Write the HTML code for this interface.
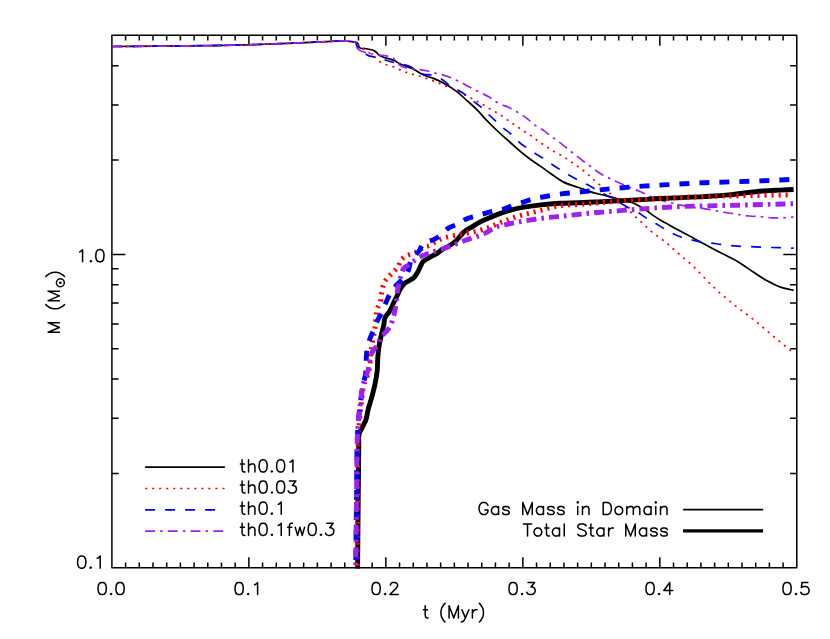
<!DOCTYPE html>
<html lang="en"><head><meta charset="utf-8"><title>Gas mass in domain and total star mass vs time</title>
<style>html,body{margin:0;padding:0;background:#fff}body{width:830px;height:639px;overflow:hidden;font-family:"Liberation Sans",sans-serif}svg{display:block}.ax{stroke:#000;stroke-width:1.5;fill:none;stroke-linejoin:round}.tk{stroke:#000;stroke-width:1.5;fill:none;stroke-linecap:butt}.g{fill:none;stroke-width:1.7;stroke-linejoin:round;stroke-linecap:butt}.s{fill:none;stroke-width:4.9;stroke-linejoin:round;stroke-linecap:butt}.t{fill:none;stroke:#000;stroke-width:1.5;stroke-linecap:round;stroke-linejoin:round}.tl text{font-family:"Liberation Sans",sans-serif;font-size:17px;fill:#000;fill-opacity:0}</style></head><body>
<svg width="830" height="639" viewBox="0 0 830 639" role="img" aria-label="Plot of M (solar masses) versus t (Myr): gas mass in domain and total star mass for runs th0.01, th0.03, th0.1, th0.1fw0.3">
<rect width="830" height="639" fill="#fff"/>
<defs><clipPath id="c"><rect x="111.2" y="34.5" width="686.3" height="533.9"/></clipPath></defs>
<rect class="ax" x="111.9" y="35.2" width="684.9" height="532.5"/>
<path class="tk" d="M125.6 567.7v-5.2M125.6 35.2v5.2M139.3 567.7v-5.2M139.3 35.2v5.2M152.99 567.7v-5.2M152.99 35.2v5.2M166.69 567.7v-5.2M166.69 35.2v5.2M180.39 567.7v-5.2M180.39 35.2v5.2M194.09 567.7v-5.2M194.09 35.2v5.2M207.79 567.7v-5.2M207.79 35.2v5.2M221.48 567.7v-5.2M221.48 35.2v5.2M235.18 567.7v-5.2M235.18 35.2v5.2M248.88 567.7v-10.5M248.88 35.2v10.5M262.58 567.7v-5.2M262.58 35.2v5.2M276.28 567.7v-5.2M276.28 35.2v5.2M289.97 567.7v-5.2M289.97 35.2v5.2M303.67 567.7v-5.2M303.67 35.2v5.2M317.37 567.7v-5.2M317.37 35.2v5.2M331.07 567.7v-5.2M331.07 35.2v5.2M344.77 567.7v-5.2M344.77 35.2v5.2M358.46 567.7v-5.2M358.46 35.2v5.2M372.16 567.7v-5.2M372.16 35.2v5.2M385.86 567.7v-10.5M385.86 35.2v10.5M399.56 567.7v-5.2M399.56 35.2v5.2M413.26 567.7v-5.2M413.26 35.2v5.2M426.95 567.7v-5.2M426.95 35.2v5.2M440.65 567.7v-5.2M440.65 35.2v5.2M454.35 567.7v-5.2M454.35 35.2v5.2M468.05 567.7v-5.2M468.05 35.2v5.2M481.75 567.7v-5.2M481.75 35.2v5.2M495.44 567.7v-5.2M495.44 35.2v5.2M509.14 567.7v-5.2M509.14 35.2v5.2M522.84 567.7v-10.5M522.84 35.2v10.5M536.54 567.7v-5.2M536.54 35.2v5.2M550.24 567.7v-5.2M550.24 35.2v5.2M563.93 567.7v-5.2M563.93 35.2v5.2M577.63 567.7v-5.2M577.63 35.2v5.2M591.33 567.7v-5.2M591.33 35.2v5.2M605.03 567.7v-5.2M605.03 35.2v5.2M618.73 567.7v-5.2M618.73 35.2v5.2M632.42 567.7v-5.2M632.42 35.2v5.2M646.12 567.7v-5.2M646.12 35.2v5.2M659.82 567.7v-10.5M659.82 35.2v10.5M673.52 567.7v-5.2M673.52 35.2v5.2M687.22 567.7v-5.2M687.22 35.2v5.2M700.91 567.7v-5.2M700.91 35.2v5.2M714.61 567.7v-5.2M714.61 35.2v5.2M728.31 567.7v-5.2M728.31 35.2v5.2M742.01 567.7v-5.2M742.01 35.2v5.2M755.71 567.7v-5.2M755.71 35.2v5.2M769.4 567.7v-5.2M769.4 35.2v5.2M783.1 567.7v-5.2M783.1 35.2v5.2M111.9 473.39h6.7M796.8 473.39h-6.7M111.9 418.22h6.7M796.8 418.22h-6.7M111.9 379.07h6.7M796.8 379.07h-6.7M111.9 348.71h6.7M796.8 348.71h-6.7M111.9 323.91h6.7M796.8 323.91h-6.7M111.9 302.93h6.7M796.8 302.93h-6.7M111.9 284.76h6.7M796.8 284.76h-6.7M111.9 268.74h6.7M796.8 268.74h-6.7M111.9 254.4h13.5M796.8 254.4h-13.5M111.9 160.09h6.7M796.8 160.09h-6.7M111.9 104.92h6.7M796.8 104.92h-6.7M111.9 65.77h6.7M796.8 65.77h-6.7"/>
<g clip-path="url(#c)">
<path class="g" stroke="#000" stroke-width="1.55" d="M111.9 46.5C134.6,46.3,157.3,46.18,180,45.9C201.67,45.64,223.34,45.53,245,44.9C256.87,44.56,268.73,44.06,280.6,43.6C291.83,43.16,303.07,42.71,314.3,42.2C319.93,41.94,325.57,41.66,331.2,41.4C334.13,41.26,337.06,41.05,340,41C341.57,40.98,343.14,40.94,344.7,41C346.47,41.06,348.24,41.23,350,41.4C351.44,41.54,352.89,41.6,354.3,41.9C355.18,42.08,356.2,42.11,356.9,42.6C357.49,43.02,357.96,43.74,358.3,44.4C358.69,45.15,358.53,46.22,359,46.9C359.36,47.42,359.95,47.89,360.5,48.2C361.62,48.82,363.17,48.35,364.5,48.5C366.41,48.72,368.33,49.03,370.2,49.5C371.69,49.88,373.3,50.12,374.6,50.9C375.4,51.38,376.14,52.03,376.8,52.7C377.31,53.22,377.68,53.9,378.2,54.4C379.19,55.34,380.55,55.91,381.8,56.5C383.2,57.17,384.71,57.64,386.2,58.1C387.61,58.53,389.08,58.77,390.5,59.2C391.95,59.64,393.43,60.06,394.8,60.7C396.35,61.42,397.68,62.61,399.2,63.4C400.59,64.12,402.05,64.7,403.5,65.3C406.16,66.41,408.97,67.14,411.6,68.3C415.6,70.07,419.12,72.9,423.1,74.7C426.83,76.39,430.92,77.3,434.7,78.9C439.33,80.86,443.91,83.09,448.2,85.7C451.52,87.72,454.74,89.99,457.8,92.4C461.21,95.08,464.27,98.19,467.5,101.1C470.71,103.99,474.04,106.76,477.1,109.8C480.47,113.16,483.4,116.96,486.7,120.4C489.85,123.68,493.1,126.87,496.4,130C499.54,132.97,502.78,135.82,506,138.7C509.22,141.58,512.44,144.46,515.7,147.3C518.87,150.06,522,152.89,525.3,155.49C528.41,157.94,531.64,160.25,534.9,162.5C536.58,163.66,538.31,164.75,540,165.91C543.94,168.61,547.67,171.6,551.6,174.31C555.38,176.91,559.05,179.78,563.1,181.87C567.95,184.37,573.42,185.65,578.6,187.5C583.72,189.33,588.78,191.39,594,192.9C598.44,194.18,603.02,194.95,607.5,196.1C610.71,196.92,613.89,197.88,617.1,198.7C620.29,199.51,623.55,200.08,626.7,201C629.98,201.96,633.32,202.95,636.4,204.4C639.78,205.99,642.86,208.27,646,210.33C649.3,212.49,652.39,214.97,655.7,217.1C658.83,219.11,662.08,220.93,665.3,222.8C668.48,224.65,671.67,226.49,674.9,228.27C678.86,230.45,682.91,232.47,686.9,234.6C692.56,237.62,698.15,240.77,703.8,243.8C709.41,246.81,715.06,249.75,720.7,252.7C726.33,255.65,732.14,258.28,737.6,261.5C743.43,264.94,748.8,269.13,754.5,272.8C758.99,275.69,763.4,278.76,768.1,281.3C771.93,283.36,775.82,285.43,779.9,286.9C783.99,288.37,788.32,289.23,792.6,290.1C792.93,290.17,793.27,290.23,793.6,290.3"/>
<path class="g" stroke="#ff0000" stroke-dasharray="2.1 4.93" d="M111.9 46.5C134.6,46.3,157.3,46.18,180,45.9C201.67,45.64,223.34,45.53,245,44.9C256.87,44.56,268.73,44.06,280.6,43.6C291.83,43.16,303.07,42.71,314.3,42.2C319.93,41.94,325.57,41.66,331.2,41.4C334.13,41.26,337.06,41.05,340,41C341.57,40.98,343.14,40.94,344.7,41C346.47,41.06,348.26,41.1,350,41.4C350.64,41.51,351.27,41.66,351.9,41.8C352.94,42.02,354.06,42.07,355,42.5C356,42.95,356.81,43.82,357.7,44.5C359.17,45.63,360.53,46.89,362,48C363.87,49.42,365.82,50.74,367.8,52C369.5,53.09,371.42,53.88,373,55.1C374.83,56.51,376.1,58.63,377.9,60.1C379.53,61.43,381.31,62.69,383.2,63.6C385.29,64.61,387.68,64.96,389.9,65.7C392.11,66.43,394.36,67.09,396.5,68C398.55,68.87,400.44,70.14,402.5,71C404.51,71.84,406.62,72.43,408.7,73.1C413.16,74.54,417.75,75.55,422.2,77C424.45,77.73,426.68,78.51,428.9,79.3C431.18,80.11,433.46,80.9,435.7,81.8C437.96,82.7,440.16,83.74,442.4,84.7C444.66,85.67,446.94,86.62,449.2,87.6C451.1,88.42,453.02,89.23,454.9,90.1C457.19,91.15,459.44,92.29,461.7,93.4C463.64,94.36,465.57,95.33,467.5,96.3C469.74,97.43,472,98.51,474.2,99.7C476.16,100.76,478.07,101.9,480,103C481.93,104.1,483.88,105.18,485.8,106.3C487.92,107.54,489.98,108.86,492.1,110.1C494.15,111.3,496.28,112.35,498.3,113.6C500.28,114.82,502.19,116.17,504.1,117.5C506.06,118.87,507.94,120.33,509.9,121.7C511.81,123.03,513.76,124.3,515.7,125.6C517.6,126.87,519.5,128.13,521.4,129.4C523.34,130.7,525.26,132.01,527.2,133.3C529.13,134.58,531.11,135.77,533,137.1C534.98,138.5,536.83,140.09,538.8,141.5C540.99,143.07,543.25,144.53,545.5,146C547.52,147.32,549.54,148.65,551.6,149.9C553.48,151.04,555.39,152.12,557.3,153.2C559.09,154.22,560.94,155.13,562.7,156.2C564.69,157.41,566.57,158.8,568.5,160.1C570.43,161.4,572.39,162.66,574.3,164C576.06,165.23,577.76,166.54,579.5,167.8C581.43,169.2,583.46,170.48,585.3,172C587.13,173.52,588.74,175.29,590.5,176.9C592.28,178.53,594.07,180.13,595.9,181.7C597.8,183.33,599.77,184.9,601.7,186.5C603.63,188.1,605.57,189.7,607.5,191.3C609.43,192.9,611.46,194.4,613.3,196.1C614.98,197.65,616.41,199.47,618.1,201C619.75,202.49,621.61,203.75,623.3,205.2C625.16,206.8,626.92,208.52,628.7,210.2C630.52,211.92,632.28,213.69,634.1,215.4C635.82,217.02,637.57,218.59,639.3,220.2C641.04,221.82,642.77,223.46,644.5,225.1C646.17,226.69,647.77,228.38,649.5,229.9C651.17,231.37,652.94,232.73,654.7,234.1C656.41,235.43,658.15,236.73,659.9,238C661.68,239.29,663.58,240.43,665.3,241.8C667.12,243.25,668.78,244.92,670.5,246.5C672.48,248.32,674.37,250.24,676.4,252C678.15,253.52,680,254.93,681.8,256.4C683.67,257.93,685.57,259.42,687.4,261C689.13,262.49,690.83,264.03,692.5,265.6C694.23,267.23,695.93,268.91,697.6,270.6C699.26,272.28,700.88,273.98,702.5,275.7C704.08,277.38,705.59,279.14,707.2,280.8C708.86,282.51,710.59,284.14,712.3,285.8C713.96,287.41,715.59,289.05,717.3,290.6C719.09,292.22,720.96,293.74,722.8,295.3C724.63,296.84,726.47,298.37,728.3,299.9C730.1,301.4,731.88,302.93,733.7,304.4C735.55,305.89,737.41,307.37,739.3,308.8C741.14,310.2,743.05,311.51,744.9,312.9C746.72,314.27,748.5,315.71,750.3,317.1C752.16,318.54,754.08,319.91,755.9,321.4C757.64,322.82,759.29,324.35,761,325.8C762.79,327.32,764.62,328.77,766.4,330.3C768.23,331.87,769.96,333.55,771.8,335.1C773.63,336.65,775.56,338.07,777.4,339.6C779.29,341.17,781.1,342.83,783,344.4C784.65,345.76,786.35,347.04,788,348.4C789.55,349.68,791.04,351.04,792.6,352.3C792.93,352.57,793.27,352.83,793.6,353.1"/>
<path class="g" stroke="#0000ff" stroke-dasharray="10 10" d="M111.9 46.5C134.6,46.3,157.3,46.18,180,45.9C201.67,45.64,223.34,45.53,245,44.9C256.87,44.56,268.73,44.06,280.6,43.6C291.83,43.16,303.07,42.71,314.3,42.2C319.93,41.94,325.57,41.66,331.2,41.4C334.13,41.26,337.06,41.05,340,41C341.57,40.98,343.14,40.94,344.7,41C346.47,41.06,348.24,41.24,350,41.4C351.33,41.52,352.74,41.38,354,41.8C354.41,41.94,354.86,42.07,355.2,42.3C356,42.84,356.19,44.08,356.6,45C357.22,46.38,357.24,48.2,358.1,49.3C359.31,50.85,362.2,50.76,363.9,52C364.95,52.77,365.74,53.96,366.8,54.7C369.1,56.31,372.25,56.48,375,57.3C378.51,58.35,382.07,59.24,385.6,60.2C388.67,61.04,391.71,61.94,394.8,62.7C396.53,63.12,398.26,63.54,400,63.9C401.63,64.24,403.29,64.39,404.9,64.8C406.63,65.24,408.35,65.81,410,66.5C411.73,67.23,413.36,68.19,415,69.1C417.73,70.61,420.11,72.99,423,74C425.79,74.98,429.09,74.45,432,75.2C435.25,76.03,438.51,77.31,441.4,79C444.16,80.61,446.33,83.21,449,85C451.84,86.9,455.07,88.22,458,90C461.25,91.97,464.47,94.01,467.5,96.3C469.74,98,471.8,99.94,474,101.7C476.62,103.79,479.48,105.6,482,107.8C484.71,110.17,487,113.01,489.6,115.5C491.82,117.62,494.13,119.64,496.4,121.7C498.93,124,501.38,126.4,504,128.6C506.58,130.77,509.48,132.56,512,134.8C514.67,137.18,516.79,140.17,519.5,142.5C521.84,144.51,524.46,146.22,527,148C529.95,150.07,532.94,152.1,536,154C538.59,155.61,541.34,156.96,543.9,158.6C546.86,160.49,549.59,162.73,552.5,164.7C555.03,166.42,557.6,168.08,560.2,169.7C563.07,171.49,565.98,173.2,568.9,174.9C571.78,176.57,574.66,178.24,577.6,179.8C580.76,181.48,584.04,182.93,587.2,184.6C590.13,186.14,593,187.8,595.9,189.4C598.8,191,601.67,192.66,604.6,194.2C607.14,195.54,609.78,196.72,612.3,198.1C615.58,199.9,618.67,202.01,621.9,203.9C624.45,205.39,626.99,206.92,629.6,208.3C632.45,209.8,635.52,210.89,638.3,212.5C641.35,214.26,644.02,216.64,647,218.53C649.83,220.33,652.82,221.87,655.7,223.59C658.28,225.13,660.81,226.76,663.4,228.27C666.23,229.92,669.06,231.6,672,233.05C674.55,234.31,677.14,235.5,679.8,236.5C682.92,237.68,686.17,238.57,689.4,239.4C692.27,240.14,695.18,240.77,698.1,241.3C699.99,241.64,701.9,241.94,703.8,242.2C706.46,242.57,709.14,242.76,711.8,243.1C714.77,243.48,717.73,244.01,720.7,244.4C726.31,245.13,731.95,245.7,737.6,246.1C743.22,246.5,748.87,246.57,754.5,246.8C760.17,247.03,765.83,247.3,771.5,247.5C778.23,247.74,784.97,247.76,791.7,248.1C792.33,248.13,792.97,248.17,793.6,248.2"/>
<path class="g" stroke="#a020f0" stroke-dasharray="10 5 2.6 5.1" d="M111.9 46.5C134.6,46.3,157.3,46.18,180,45.9C201.67,45.64,223.34,45.53,245,44.9C256.87,44.56,268.73,44.06,280.6,43.6C291.83,43.16,303.07,42.71,314.3,42.2C319.93,41.94,325.57,41.66,331.2,41.4C334.13,41.26,337.06,41.05,340,41C341.57,40.98,343.14,40.94,344.7,41C346.47,41.06,348.24,41.24,350,41.4C351.33,41.52,352.74,41.38,354,41.8C354.41,41.94,354.86,42.07,355.2,42.3C356,42.84,356.19,44.08,356.6,45C357.22,46.38,357.24,48.2,358.1,49.3C359.31,50.85,361.9,51.28,363.9,52C366.09,52.79,368.42,53.21,370.7,53.7C372.92,54.17,375.16,54.57,377.4,54.9C380.45,55.35,383.61,55.2,386.6,55.9C388.6,56.37,390.73,56.82,392.5,57.8C394.48,58.9,396.18,60.67,397.7,62.4C398.53,63.34,399.08,64.61,400,65.4C401.52,66.71,403.81,67.1,405.8,67.65C408.28,68.34,410.93,68.41,413.5,68.79C418.34,69.51,423.27,69.8,428,71C430.12,71.54,432.18,72.34,434.3,72.9C436.35,73.44,438.45,73.78,440.5,74.31C443.44,75.08,446.36,75.93,449.2,77C451.47,77.86,453.7,78.87,455.9,79.9C457.86,80.82,459.78,81.8,461.7,82.8C464.29,84.15,466.82,85.62,469.4,87C471.62,88.19,473.86,89.35,476.1,90.5C478.03,91.48,479.96,92.44,481.9,93.4C484.46,94.67,487.19,95.68,489.6,97.2C491.42,98.35,492.98,99.95,494.8,101.1C496.82,102.38,499.02,103.41,501.2,104.4C503.7,105.54,506.41,106.24,508.9,107.4C511.02,108.39,513.07,109.54,515.1,110.7C516.93,111.75,518.73,112.86,520.5,114C523.13,115.7,525.76,117.44,528.2,119.4C530.07,120.91,531.67,122.77,533.6,124.2C535.24,125.42,537.06,126.42,538.8,127.5C540.49,128.55,542.26,129.48,543.9,130.6C545.88,131.95,547.69,133.55,549.6,135C551.52,136.45,553.47,137.86,555.4,139.3C557.98,141.22,560.58,143.1,563.1,145.1C565.06,146.66,566.93,148.34,568.9,149.9C570.8,151.41,572.78,152.81,574.7,154.3C577.3,156.32,579.77,158.51,582.4,160.5C584.3,161.94,586.29,163.27,588.2,164.7C590.16,166.17,592.02,167.77,594,169.2C596.81,171.23,599.68,173.2,602.7,174.9C604.56,175.94,606.5,176.84,608.4,177.8C610.33,178.77,612.24,179.78,614.2,180.7C617.05,182.04,620.01,183.17,622.9,184.43C624.84,185.28,626.74,186.21,628.7,186.99C630.61,187.75,632.59,188.32,634.5,189.08C637.11,190.12,639.65,191.35,642.2,192.53C644.14,193.43,646.06,194.39,648,195.29C649.89,196.16,651.76,197.08,653.7,197.84C655.92,198.71,658.21,199.4,660.5,200.07C663.04,200.81,665.63,201.37,668.2,202.02C671.47,202.85,674.71,203.76,678,204.5C681.97,205.39,685.98,206.15,690,206.8C694.58,207.55,699.21,207.91,703.8,208.6C709.46,209.46,715.06,210.63,720.7,211.6C726.33,212.57,731.95,213.56,737.6,214.4C741.53,214.98,745.45,215.6,749.4,216C753.45,216.41,757.54,216.46,761.6,216.8C765.04,217.08,768.46,217.63,771.9,217.8C775.66,217.99,779.44,217.98,783.2,217.8C785.07,217.71,786.93,217.55,788.8,217.4C790.4,217.28,792,217.13,793.6,217"/>
<path class="s" stroke="#000" d="M357.5 580C357.73,553.33,357.93,526.67,358.2,500C358.38,481.67,358.6,463.33,358.8,445C358.83,442,358.47,438.96,358.9,436C359.07,434.83,359.2,433.61,359.6,432.5C359.98,431.45,360.68,430.51,361.2,429.5C361.89,428.18,362.54,426.84,363.2,425.5C364.08,423.71,365.09,421.95,365.8,420.1C367.13,416.65,367.27,412.8,368.2,409.2C369.24,405.16,370.7,401.23,371.8,397.2C372.9,393.19,373.95,389.16,374.8,385.1C375.8,380.34,376.7,375.53,377.2,370.7C377.65,366.33,377.45,361.89,377.8,357.5C378.09,353.86,378.45,350.21,379,346.6C379.61,342.57,380.5,338.58,381.4,334.6C382.13,331.35,383.15,328.16,383.8,324.9C384.28,322.52,384.11,319.9,385,317.7C385.99,315.24,388.41,313.42,389.8,311.1C391.51,308.25,392.56,305.01,394,302C395.24,299.42,396.53,296.86,397.8,294.3C398.76,292.36,399.54,290.3,400.7,288.5C402.06,286.39,403.66,284.27,405.6,282.7C407.03,281.54,408.76,280.7,410.4,279.8C411.35,279.28,412.44,278.92,413.3,278.3C415.03,277.04,416.06,274.86,417.2,273C418.32,271.16,419.12,269.13,420.1,267.2C421.05,265.33,421.61,263.08,423,261.6C424.28,260.24,426.25,259.5,427.9,258.5C429.8,257.35,431.75,256.28,433.7,255.2C434.86,254.56,436.08,254,437.2,253.3C438.91,252.23,440.32,250.71,442,249.6C444.13,248.2,446.62,247.33,448.8,246C451.16,244.56,453.55,243.05,455.6,241.2C457.36,239.61,458.79,237.66,460.4,235.9C461.69,234.49,462.88,232.95,464.3,231.7C466.59,229.69,469.48,228.4,472.1,226.8C474.65,225.24,477.16,223.6,479.8,222.2C483.09,220.46,486.58,219.08,490,217.6C492.12,216.68,494.25,215.75,496.4,214.9C500.82,213.16,505.33,211.59,509.9,210.3C514.95,208.87,520.13,207.8,525.3,206.9C530.39,206.01,535.56,205.48,540.7,204.91C546.88,204.23,553.09,203.65,559.3,203.29C565.72,202.92,572.17,203,578.6,202.77C585,202.54,591.4,202.21,597.8,201.9C604.23,201.59,610.67,201.23,617.1,200.9C623.53,200.57,629.97,200.25,636.4,199.9C642.83,199.55,649.27,199.16,655.7,198.82C662.1,198.49,668.5,198.19,674.9,197.89C684.53,197.44,694.17,197.14,703.8,196.6C712.27,196.12,720.76,195.78,729.2,194.9C734.85,194.31,740.46,193.35,746.1,192.7C751.72,192.05,757.36,191.43,763,191C768.62,190.57,774.27,190.37,779.9,190.1C784.47,189.88,789.03,189.7,793.6,189.5"/>
<path class="s" stroke="#ff0000" stroke-dasharray="2.1 4.93" d="M357 580C357.2,553.33,357.36,526.67,357.6,500C357.78,480,357.3,459.98,358.2,440C358.32,437.33,358.43,434.66,358.6,432C358.85,428.03,359.27,424.07,359.6,420.1C359.8,417.67,359.96,415.23,360.2,412.8C360.52,409.59,361,406.4,361.4,403.2C361.8,400,362.17,396.8,362.6,393.6C362.98,390.76,363.12,387.86,363.8,385.1C364.61,381.8,366.35,378.75,367.4,375.5C368.31,372.7,369.28,369.88,369.8,367C370.36,363.89,370.25,360.67,370.5,357.5C370.69,355.07,370.8,352.62,371.1,350.2C371.4,347.79,371.86,345.39,372.3,343C372.7,340.79,373.2,338.61,373.6,336.4C374.04,334.01,374.5,331.61,374.8,329.2C375.08,326.98,375.2,324.73,375.4,322.5C375.6,320.3,375.72,318.09,376,315.9C376.31,313.49,376.44,310.98,377.2,308.7C377.9,306.6,379.52,304.8,380.2,302.7C381,300.24,380.85,297.49,381.3,294.9C381.65,292.89,382.04,290.89,382.5,288.9C383.02,286.65,383.28,284.22,384.3,282.2C385.32,280.19,387.07,278.51,388.6,276.8C390.11,275.12,391.85,273.64,393.4,272C395.05,270.25,396.97,268.63,398.2,266.6C399.23,264.9,399.41,262.65,400.5,261C401.72,259.15,403.53,257.49,405.4,256.3C407.18,255.16,409.4,254.69,411.4,253.9C413.43,253.09,415.58,252.51,417.5,251.5C419.64,250.37,421.32,248.32,423.5,247.3C425.37,246.42,427.6,246.32,429.5,245.5C431.62,244.58,433.45,243.01,435.5,241.9C437.49,240.82,439.5,239.73,441.6,238.9C443.73,238.06,445.98,237.48,448.2,236.9C451.36,236.07,454.6,235.55,457.8,234.9C461.03,234.25,464.27,233.64,467.5,233C470.7,232.37,473.94,231.89,477.1,231.1C480.34,230.29,483.55,229.3,486.7,228.2C489.99,227.05,493.16,225.59,496.4,224.3C499.6,223.02,502.78,221.72,506,220.5C509.21,219.28,512.43,218.05,515.7,217C518.86,215.99,522.09,215.17,525.3,214.3C528.49,213.44,531.7,212.63,534.9,211.8C538.13,210.96,541.36,210.11,544.6,209.3C549.49,208.08,554.35,206.62,559.3,205.8C565.64,204.75,572.17,204.84,578.6,204.37C585,203.9,591.41,203.54,597.8,203C604.24,202.45,610.66,201.6,617.1,201.1C623.52,200.6,629.97,200.36,636.4,200C642.83,199.65,649.27,199.34,655.7,198.97C662.1,198.61,668.5,198.15,674.9,197.81C684.53,197.3,694.16,196.91,703.8,196.6C712.26,196.33,720.73,196.18,729.2,196C737.63,195.82,746.07,195.66,754.5,195.5C760.17,195.4,765.83,195.28,771.5,195.2C777.47,195.11,783.43,195.07,789.4,195"/>
<path class="s" stroke="#0000ff" stroke-dasharray="10 10" d="M355.6 580C355.9,553.33,356.17,526.67,356.5,500C356.75,480,356.61,459.99,357.3,440C357.39,437.33,357.45,434.66,357.6,432C357.82,428.03,358.27,424.07,358.6,420.1C358.8,417.67,358.96,415.23,359.2,412.8C359.52,409.59,360,406.4,360.4,403.2C360.8,400,361.17,396.8,361.6,393.6C361.98,390.76,362.24,387.9,362.8,385.1C363.45,381.86,364.83,378.75,365.4,375.5C365.89,372.71,366.05,369.84,366.2,367C366.36,364.01,366.14,360.99,366.3,358C366.5,354.19,366.68,350.31,367.5,346.6C368.09,343.96,368.99,341.36,369.9,338.8C371.13,335.33,372.76,332,374.2,328.6C375.4,325.77,376.52,322.9,377.8,320.1C379.29,316.85,381.11,313.75,382.6,310.5C383.88,307.7,384.94,304.81,386.2,302C387.56,298.97,388.78,295.82,390.5,293C392.19,290.23,394.29,287.67,396.4,285.2C399.15,281.98,403.12,279.72,405.4,276.2C406.6,274.34,407.53,272.25,408.4,270.2C409.99,266.47,409.61,261.76,411.9,258.5C412.84,257.16,414.13,256,415.3,254.8C416.4,253.67,417.67,252.68,418.7,251.5C420.75,249.13,421.14,245.14,423.6,243.4C424.95,242.44,426.78,242.02,428.4,241.4C430.01,240.78,431.73,240.39,433.3,239.7C436.05,238.49,438.59,236.7,441,234.9C443.81,232.81,445.86,229.63,448.8,227.8C451.43,226.17,454.7,225.6,457.5,224.2C460.55,222.67,463.19,220.27,466.3,218.9C469.36,217.55,472.77,216.96,476,216C478.93,215.13,481.86,214.23,484.8,213.4C488.02,212.49,491.24,211.56,494.5,210.8C497.68,210.06,500.98,209.81,504.1,208.9C507.39,207.94,510.45,206.22,513.7,205.1C516.89,204,520.19,203.23,523.4,202.2C526.62,201.17,529.74,199.77,533,198.9C536.18,198.05,539.46,197.6,542.7,197C548.22,195.98,553.75,194.98,559.3,194.2C565.7,193.3,572.17,192.82,578.6,192.13C585,191.45,591.4,190.75,597.8,190.1C604.23,189.44,610.66,188.78,617.1,188.2C623.53,187.62,629.96,187.08,636.4,186.6C642.83,186.12,649.26,185.68,655.7,185.3C662.1,184.92,668.5,184.64,674.9,184.3C684.53,183.79,694.16,183.12,703.8,182.7C715.06,182.21,726.33,182.05,737.6,181.67C748.9,181.29,760.2,180.91,771.5,180.4C778.87,180.07,786.23,179.67,793.6,179.3"/>
<path class="s" stroke="#a020f0" stroke-dasharray="10 5 2.6 5.1" d="M355.6 580C355.9,553.33,356.17,526.67,356.5,500C356.75,480,356.61,459.99,357.3,440C357.39,437.33,357.45,434.66,357.6,432C357.82,428.03,358.27,424.07,358.6,420.1C358.8,417.67,358.96,415.23,359.2,412.8C359.52,409.59,360,406.4,360.4,403.2C360.8,400,361.17,396.8,361.6,393.6C361.98,390.76,362.12,387.86,362.8,385.1C363.61,381.8,365.35,378.75,366.4,375.5C367.31,372.7,368.13,369.86,368.8,367C369.53,363.87,369.61,360.58,370.5,357.5C371.16,355.22,371.84,352.85,373,350.8C374.11,348.84,376,347.32,377.2,345.4C378.71,342.99,379.22,339.95,380.8,337.6C382.13,335.62,384.02,334.02,385.6,332.2C387.01,330.58,388.68,329.1,389.8,327.3C391.34,324.81,391.92,321.74,392.8,318.9C393.47,316.72,394.11,314.52,394.6,312.3C395.12,309.93,395.44,307.51,395.8,305.1C396.26,302.08,396.66,299.04,397,296C397.22,294,397.27,291.98,397.6,290C398,287.57,398.84,285.21,399.4,282.8C400.05,280.01,400.28,277.1,401.2,274.4C401.97,272.13,402.61,269.48,404.2,267.8C405.44,266.49,407.46,265.89,409,264.8C410.53,263.72,411.89,262.4,413.4,261.3C416.15,259.29,419.06,257.42,422.1,255.9C425.34,254.28,428.86,253.2,432.3,252C435.99,250.71,439.79,249.74,443.5,248.5C446.89,247.36,450.25,246.15,453.6,244.9C457.19,243.56,460.7,242.01,464.3,240.7C467.84,239.41,471.46,238.39,475,237.1C478.6,235.79,482.29,234.62,485.7,232.9C487.72,231.88,489.59,230.56,491.6,229.5C493.79,228.35,495.98,227.12,498.3,226.3C500.64,225.48,503.16,225.14,505.6,224.6C508.29,224,510.99,223.44,513.7,222.9C517.55,222.14,521.43,221.46,525.3,220.8C527.73,220.38,530.16,219.98,532.6,219.6C538.18,218.74,543.78,217.99,549.4,217.4C552.69,217.05,556,216.82,559.3,216.5C565.74,215.87,572.16,215.02,578.6,214.35C585,213.68,591.4,213.04,597.8,212.47C604.23,211.9,610.67,211.43,617.1,210.91C623.53,210.39,629.97,209.85,636.4,209.35C642.83,208.85,649.26,208.33,655.7,207.9C662.1,207.48,668.5,207.1,674.9,206.8C684.53,206.35,694.17,206.17,703.8,205.92C715.07,205.62,726.33,205.46,737.6,205.19C748.9,204.92,760.2,204.63,771.5,204.3C778.87,204.08,786.23,203.83,793.6,203.6"/>
</g>
<path class="t" d="M106.07 590.61 L106.33 587.57 L105.74 584.74 L104.54 583 L102.79 582.42 L101.53 582.42 L99.78 583 L98.58 584.74 L98.25 586.41 L97.99 589.45 L98.58 592.28 L99.78 594.02 L101.53 594.6 L102.79 594.6 L104.54 594.02 L105.74 592.28ZM111.17 593.51 L110.5 594.02 L111.03 594.53 L111.7 594.02ZM123.95 590.61 L124.21 587.57 L123.62 584.74 L122.42 583 L120.67 582.42 L119.41 582.42 L117.66 583 L116.46 584.74 L116.13 586.41 L115.87 589.45 L116.46 592.28 L117.66 594.02 L119.41 594.6 L120.67 594.6 L122.42 594.02 L123.62 592.28ZM243.05 590.61 L243.31 587.57 L242.72 584.74 L241.52 583 L239.77 582.42 L238.51 582.42 L236.76 583 L235.56 584.74 L235.23 586.41 L234.97 589.45 L235.56 592.28 L236.76 594.02 L238.51 594.6 L239.77 594.6 L241.52 594.02 L242.72 592.28ZM248.15 593.51 L247.48 594.02 L248.01 594.53 L248.68 594.02ZM257.62 594.6 L257.62 582.49 L255.79 584.2 L254.64 584.74M380.03 590.61 L380.29 587.57 L379.7 584.74 L378.5 583 L376.75 582.42 L375.49 582.42 L373.74 583 L372.54 584.74 L372.21 586.41 L371.95 589.45 L372.54 592.28 L373.74 594.02 L375.49 594.6 L376.75 594.6 L378.5 594.02 L379.7 592.28ZM385.13 593.51 L384.46 594.02 L384.99 594.53 L385.66 594.02ZM398.17 594.6 L389.87 594.56 L395.83 588.76 L397.58 585.94 L397.58 584.74 L396.98 583.58 L395.23 582.42 L392.81 582.42 L391.62 583 L391.02 583.58 L390.42 584.74 L390.42 585.32M517.01 590.61 L517.27 587.57 L516.68 584.74 L515.48 583 L513.73 582.42 L512.47 582.42 L510.72 583 L509.52 584.74 L509.19 586.41 L508.93 589.45 L509.52 592.28 L510.72 594.02 L512.47 594.6 L513.73 594.6 L515.48 594.02 L516.68 592.28ZM522.11 593.51 L521.44 594.02 L521.97 594.53 L522.64 594.02ZM526.81 592.28 L527.37 593.4 L528.07 594.06 L529.75 594.6 L531.61 594.6 L533.36 594.02 L534.56 592.86 L535.15 591.16 L535.15 589.92 L534.56 588.22 L532.81 587.06 L531.02 587.02 L534.52 582.46 L528 582.42M653.99 590.61 L654.25 587.57 L653.66 584.74 L652.46 583 L650.71 582.42 L649.45 582.42 L647.7 583 L646.5 584.74 L646.17 586.41 L645.91 589.45 L646.5 592.28 L647.7 594.02 L649.45 594.6 L650.71 594.6 L652.46 594.02 L653.66 592.28ZM659.09 593.51 L658.42 594.02 L658.95 594.53 L659.62 594.02ZM669.75 582.49 L663.83 590.47 L669.75 590.54M669.75 582.49 L669.75 582.42M669.75 582.49 L669.75 590.54M669.75 590.54 L669.75 594.6M669.75 590.54 L672.73 590.54M790.97 590.61 L791.23 587.57 L790.64 584.74 L789.44 583 L787.69 582.42 L786.43 582.42 L784.68 583 L783.48 584.74 L783.15 586.41 L782.89 589.45 L783.48 592.28 L784.68 594.02 L786.43 594.6 L787.69 594.6 L789.44 594.02 L790.64 592.28ZM796.07 593.51 L795.4 594.02 L795.93 594.53 L796.6 594.02ZM800.77 592.28 L801.96 594.02 L803.71 594.6 L805.57 594.6 L807.25 594.06 L808.52 592.86 L809.11 591.16 L809.11 589.92 L808.52 588.22 L807.32 587.06 L805.57 586.48 L803.71 586.48 L802.03 587.02 L801.36 587.57 L802 582.42 L807.92 582.42M82.59 261.8 L82.59 249.69 L80.77 251.4 L79.61 251.94M91.01 260.71 L90.34 261.22 L90.86 261.73 L91.53 261.22ZM103.79 257.81 L104.05 254.77 L103.45 251.94 L102.26 250.2 L100.51 249.62 L99.24 249.62 L97.49 250.2 L96.3 251.94 L95.97 253.61 L95.71 256.65 L96.3 259.48 L97.49 261.22 L99.24 261.8 L100.51 261.8 L102.26 261.22 L103.45 259.48ZM85.64 564.21 L85.9 561.17 L85.3 558.34 L84.11 556.6 L82.36 556.02 L81.09 556.02 L79.34 556.6 L78.15 558.34 L77.81 560.01 L77.55 563.05 L78.15 565.88 L79.34 567.62 L81.09 568.2 L82.36 568.2 L84.11 567.62 L85.3 565.88ZM90.74 567.11 L90.07 567.62 L90.59 568.13 L91.26 567.62ZM100.2 568.2 L100.2 556.09 L98.37 557.8 L97.22 558.34M423.45 609.78 L425.2 609.78M427.53 609.78 L425.2 609.78M425.2 605.72 L425.2 609.78M425.2 609.78 L425.2 615.62 L425.74 617.25 L426.95 617.9 L428.11 617.9M445 603.4 L443.8 604.6 L442.71 606.23 L441.51 608.62 L440.93 611.45 L440.93 613.91 L441.51 616.78 L443.8 620.76 L445 621.96M449.08 605.83 L449.08 605.72M449.08 605.83 L449.08 617.9M449.08 605.83 L453.74 617.86M458.4 605.72 L458.4 605.83M453.74 617.86 L453.74 617.9M453.74 617.86 L458.4 605.83M458.4 605.83 L458.4 617.9M461.9 609.78 L465.39 617.86M468.89 609.78 L465.39 617.86M465.39 617.86 L464.26 620.18 L463.03 621.42 L461.93 621.96 L461.31 621.96M472.38 613.12 L472.38 609.78M472.38 613.12 L472.38 617.9M472.38 613.12 L472.96 611.52 L474.13 610.36 L475.29 609.78 L477.04 609.78M479.37 603.4 L480.57 604.6 L481.67 606.23 L482.87 608.62 L483.45 611.45 L483.45 613.91 L482.87 616.78 L480.57 620.76 L479.37 621.96M240.35 463.88 L242.1 463.88M244.44 463.88 L242.1 463.88M242.1 459.82 L242.1 463.88M242.1 463.88 L242.1 469.72 L242.65 471.35 L243.85 472 L245.02 472M248.53 466.16 L248.53 459.82M248.53 466.16 L248.53 472M248.53 466.16 L250.28 464.46 L251.45 463.88 L253.23 463.88 L254.33 464.42 L254.95 466.16 L254.95 472M266.96 468.01 L267.21 464.97 L266.63 462.14 L265.46 460.4 L263.75 459.82 L262.51 459.82 L260.79 460.4 L259.62 462.14 L259.29 463.81 L259.04 466.85 L259.62 469.68 L260.79 471.42 L262.51 472 L263.75 472 L265.46 471.42 L266.63 469.68ZM271.96 470.91 L271.3 471.42 L271.81 471.93 L272.47 471.42ZM284.48 468.01 L284.73 464.97 L284.15 462.14 L282.98 460.4 L281.27 459.82 L280.03 459.82 L278.31 460.4 L277.14 462.14 L276.81 463.81 L276.56 466.85 L277.14 469.68 L278.31 471.42 L280.03 472 L281.27 472 L282.98 471.42 L284.15 469.68ZM292.91 472 L292.91 459.89 L291.12 461.6 L289.99 462.14M240.35 484.98 L242.1 484.98M244.44 484.98 L242.1 484.98M242.1 480.92 L242.1 484.98M242.1 484.98 L242.1 490.82 L242.65 492.45 L243.85 493.1 L245.02 493.1M248.53 487.26 L248.53 480.92M248.53 487.26 L248.53 493.1M248.53 487.26 L250.28 485.56 L251.45 484.98 L253.23 484.98 L254.33 485.52 L254.95 487.26 L254.95 493.1M266.96 489.11 L267.21 486.07 L266.63 483.24 L265.46 481.5 L263.75 480.92 L262.51 480.92 L260.79 481.5 L259.62 483.24 L259.29 484.91 L259.04 487.95 L259.62 490.78 L260.79 492.52 L262.51 493.1 L263.75 493.1 L265.46 492.52 L266.63 490.78ZM271.96 492.01 L271.3 492.52 L271.81 493.03 L272.47 492.52ZM284.48 489.11 L284.73 486.07 L284.15 483.24 L282.98 481.5 L281.27 480.92 L280.03 480.92 L278.31 481.5 L277.14 483.24 L276.81 484.91 L276.56 487.95 L277.14 490.78 L278.31 492.52 L280.03 493.1 L281.27 493.1 L282.98 492.52 L284.15 490.78ZM288.24 490.78 L288.79 491.9 L289.48 492.56 L291.12 493.1 L292.95 493.1 L294.66 492.52 L295.83 491.36 L296.41 489.66 L296.41 488.42 L295.83 486.72 L294.11 485.56 L292.36 485.52 L295.79 480.96 L289.41 480.92M240.35 506.08 L242.1 506.08M244.44 506.08 L242.1 506.08M242.1 502.02 L242.1 506.08M242.1 506.08 L242.1 511.92 L242.65 513.55 L243.85 514.2 L245.02 514.2M248.53 508.36 L248.53 502.02M248.53 508.36 L248.53 514.2M248.53 508.36 L250.28 506.66 L251.45 506.08 L253.23 506.08 L254.33 506.62 L254.95 508.36 L254.95 514.2M266.96 510.21 L267.21 507.17 L266.63 504.34 L265.46 502.6 L263.75 502.02 L262.51 502.02 L260.79 502.6 L259.62 504.34 L259.29 506.01 L259.04 509.05 L259.62 511.88 L260.79 513.62 L262.51 514.2 L263.75 514.2 L265.46 513.62 L266.63 511.88ZM271.96 513.11 L271.3 513.62 L271.81 514.13 L272.47 513.62ZM281.23 514.2 L281.23 502.09 L279.44 503.8 L278.31 504.34M240.35 527.28 L242.1 527.28M244.44 527.28 L242.1 527.28M242.1 523.22 L242.1 527.28M242.1 527.28 L242.1 533.12 L242.65 534.75 L243.85 535.4 L245.02 535.4M248.53 529.56 L248.53 523.22M248.53 529.56 L248.53 535.4M248.53 529.56 L250.28 527.86 L251.45 527.28 L253.23 527.28 L254.33 527.82 L254.95 529.56 L254.95 535.4M266.96 531.41 L267.21 528.37 L266.63 525.54 L265.46 523.8 L263.75 523.22 L262.51 523.22 L260.79 523.8 L259.62 525.54 L259.29 527.21 L259.04 530.25 L259.62 533.08 L260.79 534.82 L262.51 535.4 L263.75 535.4 L265.46 534.82 L266.63 533.08ZM271.96 534.31 L271.3 534.82 L271.81 535.33 L272.47 534.82ZM281.23 535.4 L281.23 523.29 L279.44 525 L278.31 525.54M287.65 527.28 L289.41 527.28M292.33 523.22 L291.16 523.22 L289.95 523.87 L289.41 525.5 L289.41 527.28M291.74 527.28 L289.41 527.28M289.41 535.4 L289.41 527.28M299.92 527.28 L299.92 527.32M302.25 535.4 L302.25 535.36M297.58 535.4 L297.58 535.36M302.25 535.36 L299.92 527.32M302.25 535.36 L304.59 527.28M297.58 535.36 L295.25 527.28M297.58 535.36 L299.92 527.32M316.01 531.41 L316.27 528.37 L315.69 525.54 L314.52 523.8 L312.8 523.22 L311.56 523.22 L309.85 523.8 L308.68 525.54 L308.35 527.21 L308.09 530.25 L308.68 533.08 L309.85 534.82 L311.56 535.4 L312.8 535.4 L314.52 534.82 L315.69 533.08ZM321.01 534.31 L320.36 534.82 L320.87 535.33 L321.53 534.82ZM325.61 533.08 L326.16 534.2 L326.85 534.86 L328.5 535.4 L330.32 535.4 L332.04 534.82 L333.21 533.66 L333.79 531.96 L333.79 530.72 L333.21 529.02 L331.49 527.86 L329.74 527.82 L333.17 523.26 L326.78 523.22M484.96 509.96 L487.92 510 L487.92 511.74 L487.36 512.82 L486.11 514.06 L485 514.6 L482.6 514.6 L481.41 514.02 L480.2 512.82 L479.05 510 L479.05 507.02 L480.23 504.16 L481.41 503 L482.6 502.42 L485 502.42 L486.11 502.96 L487.32 504.16 L487.92 505.32M498.55 506.48 L498.55 508.18M498.55 514.6 L498.55 512.9M498.55 508.18 L497.34 507.02 L496.23 506.48 L494.42 506.48 L493.23 507.06 L492.05 508.22 L491.46 509.92 L491.46 511.16 L492.05 512.86 L493.23 514.02 L494.42 514.6 L496.23 514.6 L497.34 514.06 L498.55 512.9M498.55 508.18 L498.55 512.9M509.19 508.22 L508.53 507.02 L506.87 506.48 L505.02 506.48 L503.36 507.02 L502.69 508.22 L503.25 509.34 L504.46 509.96 L507.46 510.54 L508.56 511.08 L509.19 512.28 L509.19 512.9 L508.6 514.02 L506.87 514.6 L505.02 514.6 L503.28 514.02 L502.69 512.86M522.79 502.53 L522.79 502.42M522.79 502.53 L522.79 514.6M522.79 502.53 L527.52 514.56M532.24 502.42 L532.24 502.53M527.52 514.56 L527.52 514.6M527.52 514.56 L532.24 502.53M532.24 502.53 L532.24 514.6M543.47 506.48 L543.47 508.18M543.47 514.6 L543.47 512.9M543.47 508.18 L542.25 507.02 L541.15 506.48 L539.34 506.48 L538.15 507.06 L536.97 508.22 L536.38 509.92 L536.38 511.16 L536.97 512.86 L538.15 514.02 L539.34 514.6 L541.15 514.6 L542.25 514.06 L543.47 512.9M543.47 508.18 L543.47 512.9M554.11 508.22 L553.45 507.02 L551.78 506.48 L549.94 506.48 L548.28 507.02 L547.61 508.22 L548.16 509.34 L549.38 509.96 L552.38 510.54 L553.48 511.08 L554.11 512.28 L554.11 512.9 L553.52 514.02 L551.78 514.6 L549.94 514.6 L548.2 514.02 L547.61 512.86M564.16 508.22 L563.49 507.02 L561.83 506.48 L559.99 506.48 L558.32 507.02 L557.66 508.22 L558.21 509.34 L559.43 509.96 L562.42 510.54 L563.53 511.08 L564.16 512.28 L564.16 512.9 L563.57 514.02 L561.83 514.6 L559.99 514.6 L558.25 514.02 L557.66 512.86M577.75 514.6 L577.75 506.48M577.2 502.46 L577.75 501.84 L578.31 502.38 L577.75 503ZM582.48 508.76 L582.48 506.48M582.48 508.76 L582.48 514.6M582.48 508.76 L584.25 507.06 L585.44 506.48 L587.25 506.48 L588.36 507.02 L588.98 508.76 L588.98 514.6M611.26 506.52 L610.26 504.16 L609.08 503 L607.34 502.42 L603.2 502.42 L603.17 510.5 L603.2 514.6 L607.34 514.6 L609.08 514.02 L610.3 512.82 L611.44 510ZM622.08 508.22 L620.86 507.02 L619.75 506.48 L617.94 506.48 L616.76 507.06 L615.58 508.22 L614.99 509.92 L614.99 511.16 L615.58 512.86 L616.76 514.02 L617.94 514.6 L619.75 514.6 L620.86 514.06 L622.08 512.86 L622.67 511.16 L622.67 509.92ZM626.81 508.76 L626.81 506.48M626.81 508.76 L626.81 514.6M626.81 508.76 L628.58 507.06 L629.76 506.48 L631.57 506.48 L632.68 507.02 L633.31 508.76M633.31 514.6 L633.31 508.76M639.81 514.6 L639.81 508.76 L639.18 507.02 L638.08 506.48 L636.27 506.48 L635.08 507.06 L633.31 508.76M651.04 506.48 L651.04 508.18M651.04 514.6 L651.04 512.9M651.04 508.18 L649.82 507.02 L648.71 506.48 L646.9 506.48 L645.72 507.06 L644.54 508.22 L643.95 509.92 L643.95 511.16 L644.54 512.86 L645.72 514.02 L646.9 514.6 L648.71 514.6 L649.82 514.06 L651.04 512.9M651.04 508.18 L651.04 512.9M655.77 514.6 L655.77 506.48M655.22 502.46 L655.77 501.84 L656.32 502.38 L655.77 503ZM660.5 508.76 L660.5 506.48M660.5 508.76 L660.5 514.6M660.5 508.76 L662.27 507.06 L663.45 506.48 L665.26 506.48 L666.37 507.02 L667 508.76 L667 514.6M527.54 536.1 L527.54 523.92M527.54 523.92 L523.39 523.92M527.54 523.92 L531.68 523.92M541.15 529.72 L539.93 528.52 L538.82 527.98 L537.01 527.98 L535.83 528.56 L534.64 529.72 L534.05 531.42 L534.05 532.66 L534.64 534.36 L535.83 535.52 L537.01 536.1 L538.82 536.1 L539.93 535.56 L541.15 534.36 L541.75 532.66 L541.75 531.42ZM544.71 527.98 L546.48 527.98M548.85 527.98 L546.48 527.98M546.48 523.92 L546.48 527.98M546.48 527.98 L546.48 533.82 L547.04 535.45 L548.26 536.1 L549.44 536.1M559.51 527.98 L559.51 529.68M559.51 536.1 L559.51 534.4M559.51 529.68 L558.28 528.52 L557.18 527.98 L555.36 527.98 L554.18 528.56 L552.99 529.72 L552.4 531.42 L552.4 532.66 L552.99 534.36 L554.18 535.52 L555.36 536.1 L557.18 536.1 L558.28 535.56 L559.51 534.4M559.51 529.68 L559.51 534.4M564.24 536.1 L564.24 523.92M577.86 534.36 L579.04 535.52 L580.78 536.1 L583.22 536.1 L584.96 535.52 L586.15 534.36 L586.15 532.62 L584.93 530.84 L579.04 528.56 L577.86 526.86 L577.86 525.66 L579.04 524.5 L580.78 523.92 L583.22 523.92 L584.96 524.5 L586.15 525.66M589.11 527.98 L590.88 527.98M593.25 527.98 L590.88 527.98M590.88 523.92 L590.88 527.98M590.88 527.98 L590.88 533.82 L591.44 535.45 L592.66 536.1 L593.84 536.1M603.91 527.98 L603.91 529.68M603.91 536.1 L603.91 534.4M603.91 529.68 L602.69 528.52 L601.58 527.98 L599.76 527.98 L598.58 528.56 L597.39 529.72 L596.8 531.42 L596.8 532.66 L597.39 534.36 L598.58 535.52 L599.76 536.1 L601.58 536.1 L602.69 535.56 L603.91 534.4M603.91 529.68 L603.91 534.4M608.64 531.32 L608.64 527.98M608.64 531.32 L608.64 536.1M608.64 531.32 L609.23 529.72 L610.42 528.56 L611.6 527.98 L613.38 527.98M625.81 524.03 L625.81 523.92M625.81 524.03 L625.81 536.1M625.81 524.03 L630.55 536.06M635.28 523.92 L635.28 524.03M630.55 536.06 L630.55 536.1M630.55 536.06 L635.28 524.03M635.28 524.03 L635.28 536.1M646.53 527.98 L646.53 529.68M646.53 536.1 L646.53 534.4M646.53 529.68 L645.31 528.52 L644.2 527.98 L642.39 527.98 L641.2 528.56 L640.02 529.72 L639.43 531.42 L639.43 532.66 L640.02 534.36 L641.2 535.52 L642.39 536.1 L644.2 536.1 L645.31 535.56 L646.53 534.4M646.53 529.68 L646.53 534.4M657.19 529.72 L656.52 528.52 L654.86 527.98 L653 527.98 L651.34 528.52 L650.67 529.72 L651.23 530.84 L652.45 531.46 L655.45 532.04 L656.56 532.58 L657.19 533.78 L657.19 534.4 L656.59 535.52 L654.86 536.1 L653 536.1 L651.27 535.52 L650.67 534.36M667.25 529.72 L666.58 528.52 L664.92 527.98 L663.07 527.98 L661.4 528.52 L660.74 529.72 L661.29 530.84 L662.51 531.46 L665.51 532.04 L666.62 532.58 L667.25 533.78 L667.25 534.4 L666.66 535.52 L664.92 536.1 L663.07 536.1 L661.33 535.52 L660.74 534.36M48.16 332.22 L48.06 332.22M48.16 332.22 L59.4 332.22M48.16 332.22 L59.37 327.45M48.06 322.68 L48.16 322.68M59.37 327.45 L59.4 327.45M59.37 327.45 L48.16 322.68M48.16 322.68 L59.4 322.68M45.9 304.64 L47.1 305.87 L48.73 306.99 L51.12 308.22 L53.95 308.82 L56.41 308.82 L59.28 308.22 L63.26 305.87 L64.46 304.64M48.16 300.68 L48.06 300.68M48.16 300.68 L59.4 300.68M48.16 300.68 L59.37 295.91M48.06 291.14 L48.16 291.14M59.37 295.91 L59.4 295.91M59.37 295.91 L48.16 291.14M48.16 291.14 L59.4 291.14M45.9 276.51 L47.1 275.28 L48.73 274.17 L51.12 272.94 L53.95 272.34 L56.41 272.34 L59.28 272.94 L63.26 275.28 L64.46 276.51"/>
<circle cx="60.35" cy="282.8" r="3.95" fill="none" stroke="#000" stroke-width="1.5"/><circle cx="60.35" cy="282.8" r="1.3" fill="#000"/>
<path class="g" stroke="#000" stroke-width="1.55" d="M145.1 467.2H224.9"/>
<path class="g" stroke="#ff0000" stroke-dasharray="2.1 4.93" d="M145.1 488.5H224.9"/>
<path class="g" stroke="#0000ff" stroke-dasharray="10 10" d="M145.1 509.9H224.9"/>
<path class="g" stroke="#a020f0" stroke-dasharray="10 5 2.6 5.1" d="M145.1 531.1H224.9"/>
<path class="g" stroke="#000" stroke-width="1.55" d="M683.1 509.7H763.1"/>
<path stroke="#000" stroke-width="3.3" fill="none" d="M683.1 530.9H763.1"/>
<g class="tl">
<text x="97.99" y="594.6" textLength="26.22" lengthAdjust="spacingAndGlyphs">0.0</text>
<text x="234.97" y="594.6" textLength="22.65" lengthAdjust="spacingAndGlyphs">0.1</text>
<text x="371.95" y="594.6" textLength="26.22" lengthAdjust="spacingAndGlyphs">0.2</text>
<text x="508.93" y="594.6" textLength="26.22" lengthAdjust="spacingAndGlyphs">0.3</text>
<text x="645.91" y="594.6" textLength="26.82" lengthAdjust="spacingAndGlyphs">0.4</text>
<text x="782.89" y="594.6" textLength="26.22" lengthAdjust="spacingAndGlyphs">0.5</text>
<text x="79.61" y="261.8" textLength="24.44" lengthAdjust="spacingAndGlyphs">1.0</text>
<text x="77.55" y="568.2" textLength="22.65" lengthAdjust="spacingAndGlyphs">0.1</text>
<text x="423.45" y="617.9" textLength="60" lengthAdjust="spacingAndGlyphs">t (Myr)</text>
<text x="240.35" y="472" textLength="52.56" lengthAdjust="spacingAndGlyphs">th0.01</text>
<text x="240.35" y="493.1" textLength="56.06" lengthAdjust="spacingAndGlyphs">th0.03</text>
<text x="240.35" y="514.2" textLength="40.88" lengthAdjust="spacingAndGlyphs">th0.1</text>
<text x="240.35" y="535.4" textLength="93.44" lengthAdjust="spacingAndGlyphs">th0.1fw0.3</text>
<text x="479.05" y="514.6" textLength="187.95" lengthAdjust="spacingAndGlyphs">Gas Mass in Domain</text>
<text x="523.39" y="536.1" textLength="143.86" lengthAdjust="spacingAndGlyphs">Total Star Mass</text>
<text transform="translate(59.4 334.6) rotate(-90)" textLength="62" lengthAdjust="spacingAndGlyphs">M (M⊙)</text>
</g>
</svg></body></html>
